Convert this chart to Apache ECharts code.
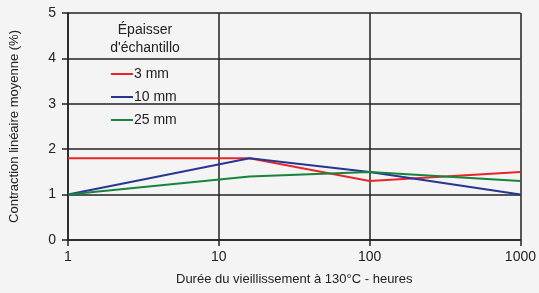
<!DOCTYPE html>
<html><head><meta charset="utf-8">
<script src="https://cdn.jsdelivr.net/npm/echarts@6/dist/echarts.min.js"></script>
<style>html,body{margin:0;padding:0;background:#f4f4f4}#c{width:539px;height:293px}</style>
</head><body><div id="c"></div>
<script>
const seriesNames = ['3 mm', '10 mm', '25 mm'];
const xTickLabels = {1: '1', 10: '10', 100: '100', 1000: '1000'};
const red3mm = [[1, 1.8], [16, 1.8], [100, 1.3], [1000, 1.5]];
const blue10mm = [[1, 1.0], [16, 1.8], [100, 1.5], [1000, 1.0]];
const green25mm = [[1, 1.0], [16, 1.4], [100, 1.5], [1000, 1.3]];
const colors = ['#e8262a', '#283593', '#16843c'];
const font = 'Liberation Sans, Arial, sans-serif';
const chart = echarts.init(document.getElementById('c'));
chart.setOption({
  backgroundColor: '#f4f4f4',
  animation: false,
  grid: {left: 67, right: 18, top: 13, bottom: 53},
  title: {text: 'Épaisser\nd\'échantillo', left: 140, top: 16, textAlign: 'center',
    textStyle: {fontFamily: font, fontSize: 14, fontWeight: 'normal', color: '#222', lineHeight: 18}},
  legend: {orient: 'vertical', left: 106, top: 62, itemWidth: 22, itemHeight: 2, itemGap: 9,
    icon: 'rect', itemStyle: {borderWidth: 0},
    textStyle: {fontFamily: font, fontSize: 14, color: '#222', padding: [0, 0, 0, -4]},
    data: seriesNames},
  xAxis: {type: 'log', logBase: 10, min: 1, max: 1000,
    name: 'Durée du vieillissement à 130°C - heures', nameLocation: 'middle', nameGap: 33,
    nameTextStyle: {fontFamily: font, fontSize: 13, color: '#222'},
    axisLine: {show: true, lineStyle: {color: '#222', width: 1.5}},
    axisTick: {show: true, length: 6, lineStyle: {color: '#222', width: 1.5}},
    axisLabel: {fontFamily: font, fontSize: 14, color: '#222', margin: 10,
      formatter: v => xTickLabels[Math.round(v)] || ''},
    splitLine: {show: true, lineStyle: {color: '#222', width: 1.5}},
    minorTick: {show: false}},
  yAxis: {type: 'value', min: 0, max: 5, interval: 1,
    name: 'Contraction linéaire moyenne (%)', nameLocation: 'middle', nameGap: 47,
    nameTextStyle: {fontFamily: font, fontSize: 13, color: '#222'},
    axisLine: {show: true, lineStyle: {color: '#222', width: 1.5}},
    axisTick: {show: true, length: 6, lineStyle: {color: '#222', width: 1.5}},
    axisLabel: {fontFamily: font, fontSize: 14, color: '#222', margin: 12},
    splitLine: {show: true, lineStyle: {color: '#222', width: 1.5}}},
  series: [
    {name: seriesNames[0], type: 'line', data: red3mm, showSymbol: false, symbol: 'none', color: colors[0], lineStyle: {width: 2}},
    {name: seriesNames[1], type: 'line', data: blue10mm, showSymbol: false, symbol: 'none', color: colors[1], lineStyle: {width: 2}},
    {name: seriesNames[2], type: 'line', data: green25mm, showSymbol: false, symbol: 'none', color: colors[2], lineStyle: {width: 2}}
  ]
});
</script></body></html>
